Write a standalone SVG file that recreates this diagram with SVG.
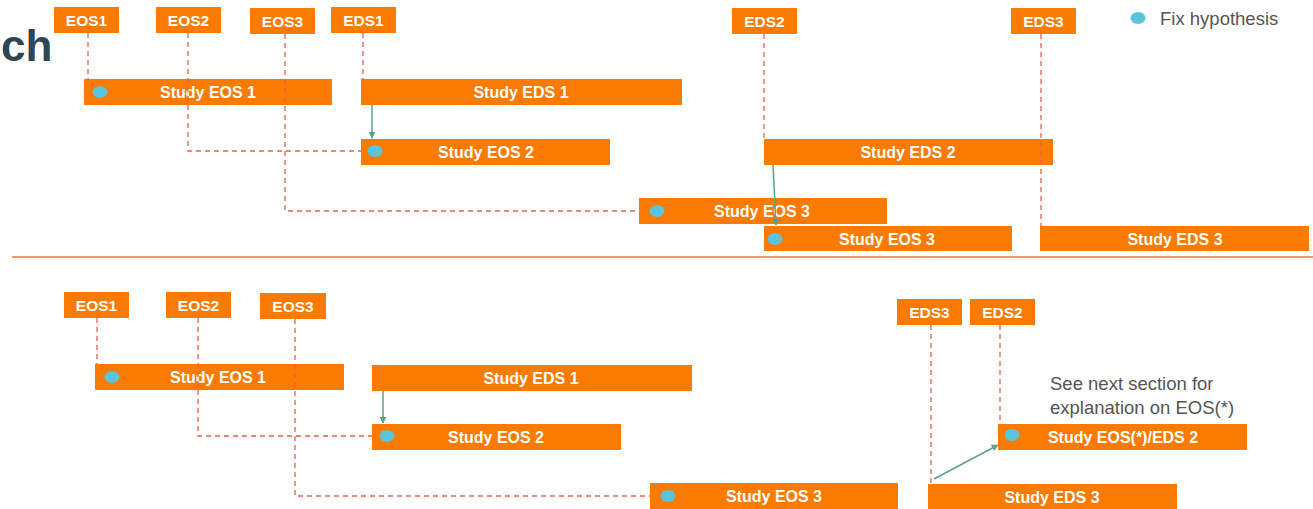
<svg xmlns="http://www.w3.org/2000/svg" width="1313" height="509" viewBox="0 0 1313 509">
<defs>
<style>
.box{fill:#fb7a00}
.lbl{font-family:"Liberation Sans",Arial,sans-serif;font-weight:bold;font-size:15.5px;fill:#fff;text-anchor:middle}
.bar{font-family:"Liberation Sans",Arial,sans-serif;font-weight:bold;font-size:16px;fill:#fff;text-anchor:middle}
.dot{fill:#5bc4dc}
.dash{fill:none;stroke:#e8604a;stroke-width:1.3;stroke-dasharray:5 4}
.grn{fill:none;stroke:#5f9f8e;stroke-width:1.5}
.note{font-family:"Liberation Sans",Arial,sans-serif;font-size:18.5px;fill:#555}
</style>
<marker id="ah" viewBox="0 0 10 10" refX="9" refY="5" markerWidth="7" markerHeight="7" orient="auto" markerUnits="userSpaceOnUse">
<path d="M0,0 L10,5 L0,10 z" fill="#5f9f8e"/>
</marker>
</defs>
<rect width="1313" height="509" fill="#fff"/>
<text x="1" y="61" font-family="Liberation Sans,Arial,sans-serif" font-weight="bold" font-size="44" fill="#2f4752">ch</text>

<line x1="12" y1="257" x2="1313" y2="257" stroke="#e3783f" stroke-width="1.5"/>

<g id="legend">
<ellipse class="dot" cx="1138" cy="18" rx="7.5" ry="6"/>
<text class="note" x="1160" y="25">Fix hypothesis</text>
</g>

<g id="t-eos1"><rect class="box" x="54" y="7" width="65" height="26"/><text class="lbl" x="86.5" y="26">EOS1</text></g>
<g id="t-eos2"><rect class="box" x="156" y="7" width="65" height="26"/><text class="lbl" x="188.5" y="26">EOS2</text></g>
<g id="t-eos3"><rect class="box" x="250" y="8" width="65" height="26"/><text class="lbl" x="282.5" y="27">EOS3</text></g>
<g id="t-eds1"><rect class="box" x="331" y="7" width="65" height="26"/><text class="lbl" x="363.5" y="26">EDS1</text></g>
<g id="t-eds2"><rect class="box" x="732" y="8" width="65" height="26"/><text class="lbl" x="764.5" y="27">EDS2</text></g>
<g id="t-eds3"><rect class="box" x="1011" y="8" width="65" height="26"/><text class="lbl" x="1043.5" y="27">EDS3</text></g>

<g id="t-study-eos1"><rect class="box" x="84" y="79" width="248" height="26"/><ellipse class="dot" cx="100" cy="92" rx="7.5" ry="6"/><text class="bar" x="208" y="98">Study EOS 1</text></g>
<g id="t-study-eds1"><rect class="box" x="361" y="79" width="321" height="26"/><text class="bar" x="521" y="98">Study EDS 1</text></g>
<g id="t-study-eos2"><rect class="box" x="361" y="139" width="249" height="26"/><ellipse class="dot" cx="375" cy="151" rx="7.5" ry="6"/><text class="bar" x="486" y="158">Study EOS 2</text></g>
<g id="t-study-eds2"><rect class="box" x="764" y="139" width="289" height="26"/><text class="bar" x="908" y="158">Study EDS 2</text></g>
<g id="t-study-eos3a"><rect class="box" x="639" y="198" width="248" height="26"/><ellipse class="dot" cx="657" cy="211" rx="7.5" ry="6"/><text class="bar" x="762" y="217">Study EOS 3</text></g>
<g id="t-study-eos3b"><rect class="box" x="764" y="226" width="248" height="25"/><ellipse class="dot" cx="775" cy="239" rx="7.5" ry="6"/><text class="bar" x="887" y="245">Study EOS 3</text></g>
<g id="t-study-eds3"><rect class="box" x="1040" y="226" width="269" height="25"/><text class="bar" x="1175" y="245">Study EDS 3</text></g>

<g id="b-eos1"><rect class="box" x="64" y="292" width="65" height="26"/><text class="lbl" x="96.5" y="311">EOS1</text></g>
<g id="b-eos2"><rect class="box" x="166" y="292" width="65" height="26"/><text class="lbl" x="198.5" y="311">EOS2</text></g>
<g id="b-eos3"><rect class="box" x="260" y="293" width="66" height="26"/><text class="lbl" x="293" y="312">EOS3</text></g>
<g id="b-eds3"><rect class="box" x="897" y="299" width="65" height="26"/><text class="lbl" x="929.5" y="318">EDS3</text></g>
<g id="b-eds2"><rect class="box" x="970" y="299" width="65" height="26"/><text class="lbl" x="1002.5" y="318">EDS2</text></g>

<g id="b-study-eos1"><rect class="box" x="95" y="364" width="249" height="26"/><ellipse class="dot" cx="112" cy="377" rx="7.5" ry="6"/><text class="bar" x="218" y="383">Study EOS 1</text></g>
<g id="b-study-eds1"><rect class="box" x="372" y="365" width="320" height="26"/><text class="bar" x="531" y="384">Study EDS 1</text></g>
<g id="b-study-eos2"><rect class="box" x="372" y="424" width="249" height="26"/><ellipse class="dot" cx="387" cy="436" rx="7.5" ry="6"/><text class="bar" x="496" y="443">Study EOS 2</text></g>
<g id="b-study-eos3"><rect class="box" x="650" y="483" width="248" height="26"/><ellipse class="dot" cx="668" cy="496" rx="7.5" ry="6"/><text class="bar" x="774" y="502">Study EOS 3</text></g>
<g id="b-study-eoseds2"><rect class="box" x="998" y="424" width="249" height="26"/><ellipse class="dot" cx="1012" cy="435" rx="7.5" ry="6"/><text class="bar" x="1123" y="443">Study EOS(*)/EDS 2</text></g>
<g id="b-study-eds3"><rect class="box" x="928" y="484" width="249" height="25"/><text class="bar" x="1052" y="503">Study EDS 3</text></g>

<g id="note">
<text class="note" x="1050" y="390">See next section for</text>
<text class="note" x="1050" y="414">explanation on EOS(*)</text>
</g>

<g id="connectors">
<path class="dash" d="M88,33 V79"/>
<path class="dash" d="M188,33 V151 H361"/>
<path class="dash" d="M285,34 V211 H639"/>
<path class="dash" d="M363,33 V79"/>
<path class="dash" d="M764,34 V139"/>
<path class="dash" d="M1041,34 V226"/>
<path class="grn" d="M372,105 V138" marker-end="url(#ah)"/>
<path class="grn" d="M773,165 L776,225" marker-end="url(#ah)"/>
<path class="dash" d="M97,318 V364"/>
<path class="dash" d="M198,318 V436 H372"/>
<path class="dash" d="M295,319 V496 H650"/>
<path class="dash" d="M931,325 V484"/>
<path class="dash" d="M1000,325 V424"/>
<path class="grn" d="M383,391 V423" marker-end="url(#ah)"/>
<path class="grn" d="M934,479 L998,445" marker-end="url(#ah)"/>
</g>
</svg>
